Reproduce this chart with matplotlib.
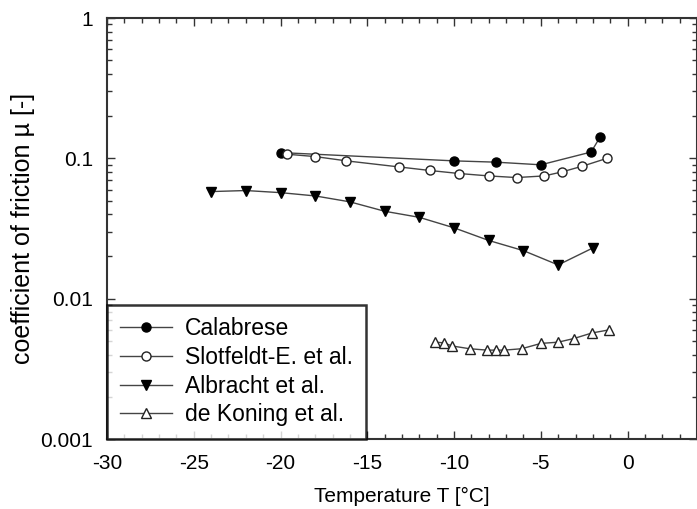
import matplotlib.pyplot as plt
from matplotlib.ticker import MultipleLocator, LogLocator, NullFormatter, FixedLocator, FixedFormatter

plt.rcParams['font.family'] = ['Liberation Sans', 'DejaVu Sans']
plt.rcParams['axes.unicode_minus'] = False

# Calabrese
t_cal = [-20, -10, -7.6, -5, -2.1, -1.6]
mu_cal = [0.110, 0.096, 0.094, 0.090, 0.111, 0.141]

# Slotfeldt-E. et al.
t_slo = [-19.6, -18, -16.2, -13.2, -11.4, -9.7, -8, -6.4, -4.8, -3.8, -2.6, -1.2]
mu_slo = [0.107, 0.103, 0.096, 0.087, 0.082, 0.078, 0.075, 0.073, 0.075, 0.080, 0.088, 0.100]

# Albracht et al.
t_alb = [-24, -22, -20, -18, -16, -14, -12, -10, -8, -6, -4, -2]
mu_alb = [0.058, 0.059, 0.057, 0.054, 0.049, 0.042, 0.038, 0.032, 0.026, 0.022, 0.0174, 0.023]

# de Koning et al.
t_dek = [-11.1, -10.6, -10.1, -9.1, -8.1, -7.6, -7.1, -6.1, -5, -4, -3.1, -2.05, -1.05]
mu_dek = [0.0049, 0.00485, 0.0046, 0.0044, 0.0043, 0.0043, 0.0043, 0.0044, 0.0048, 0.0049, 0.0052, 0.0057, 0.0060]

fig = plt.figure(figsize=(6.97, 5.09), dpi=100)
ax = fig.add_axes([0.1535, 0.1375, 0.8465, 0.827])

lc = '#444444'
ax.plot(t_cal, mu_cal, '-o', color=lc, lw=1, ms=6.5, mfc='black', mec='black', label='Calabrese')
ax.plot(t_slo, mu_slo, '-o', color=lc, lw=1, ms=6.5, mfc='white', mec='#222222', mew=1, label='Slotfeldt-E. et al.')
ax.plot(t_alb, mu_alb, '-v', color=lc, lw=1, ms=7, mfc='black', mec='black', label='Albracht et al.')
ax.plot(t_dek, mu_dek, '-^', color=lc, lw=1, ms=7, mfc='white', mec='#222222', mew=1, label='de Koning et al.')

ax.set_yscale('log')
ax.set_xlim(-30, 4)
ax.set_ylim(0.001, 1)

ax.xaxis.set_major_locator(MultipleLocator(5))
ax.xaxis.set_minor_locator(MultipleLocator(1))
ax.yaxis.set_major_locator(FixedLocator([0.001, 0.01, 0.1, 1]))
ax.yaxis.set_major_formatter(FixedFormatter(['0.001', '0.01', '0.1', '1']))
ax.yaxis.set_minor_locator(LogLocator(base=10, subs=range(2, 10)))
ax.yaxis.set_minor_formatter(NullFormatter())

ax.tick_params(which='both', direction='in', top=True, right=True, labelsize=15, color='#333333')
ax.tick_params(axis='x', which='major', length=6, width=1, pad=11)
ax.tick_params(axis='y', which='major', length=6, width=1, pad=10)
ax.tick_params(which='minor', length=3.5, width=1)
for s in ax.spines.values():
    s.set_linewidth(1.5)
    s.set_color('#333333')

ax.set_xlabel('Temperature T [°C]', fontsize=15, labelpad=10)
ax.set_ylabel('coefficient of friction µ [-]', fontsize=18, labelpad=4)

leg = ax.legend(loc='lower left', fontsize=16.5, frameon=True, fancybox=False,
                borderaxespad=0, handlelength=2.3, labelspacing=0.25,
                borderpad=0.55, handletextpad=0.55)
leg.get_frame().set_edgecolor('black')
leg.get_frame().set_linewidth(1.8)

fig.savefig('out.png', dpi=100)
